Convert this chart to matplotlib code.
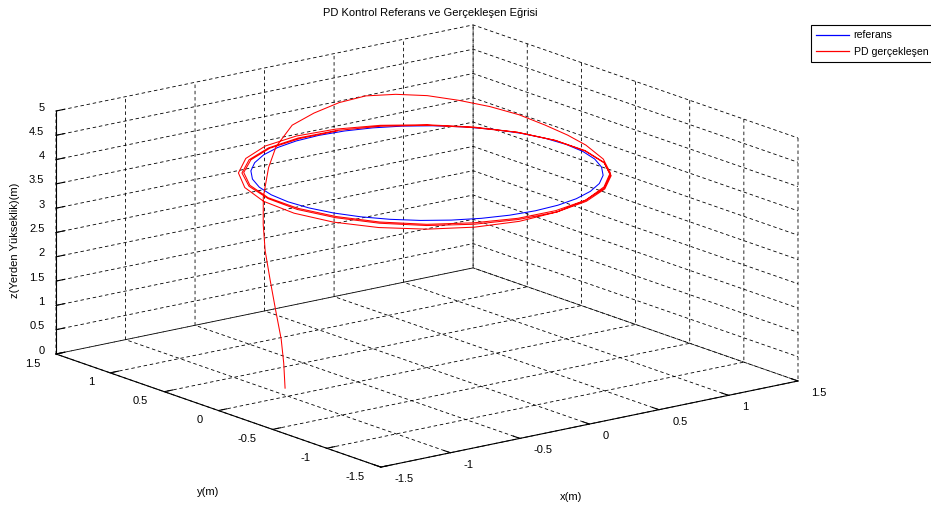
import matplotlib
matplotlib.use('Agg')
import matplotlib.pyplot as plt
import numpy as np
from matplotlib.lines import Line2D
from matplotlib.ticker import FormatStrFormatter

plt.rcParams['font.family'] = ['Liberation Sans', 'DejaVu Sans']
plt.rcParams['font.size'] = 8
plt.rcParams['axes.unicode_minus'] = False
plt.rcParams['lines.scale_dashes'] = False

# reference: circle of radius 1 at 4 m height
ref_angle = [0, 10, 20, 30, 40, 50, 60, 70, 80, 90, 100, 110, 120, 130, 140, 150,
             160, 170, 180, 190, 200, 210, 220, 230, 240, 250, 260, 270, 280, 290,
             300, 310, 320, 330, 340, 350, 360]
ref_radius = 1.0
ref_height = 4.0

# PD result as (angle deg, radius, height)
pd_angle = [171, 170, 168, 163, 157, 149, 140, 130, 120, 112, 102, 92, 82, 72, 62, 52,
            42, 32, 22, 12, 2, -8, -23, -38,
            -53, -68, -83, -98, -113, -128, -143, -158, -173, -188, -203, -218,
            -233, -248, -263, -278, -293, -308, -323, -338, -353, -368, -383, -398,
            -413, -428, -443, -458, -473, -488, -503, -518, -533, -548, -563, -578,
            -593, -608, -623, -638, -653, -668, -683, -698, -713, -728, -743, -758,
            -773, -788, -803, -818, -833, -848, -863, -878, -893, -908, -923, -938,
            -953, -968, -983, -998]
pd_radius = [0.92, 0.92, 0.92, 0.92, 0.92, 0.925, 0.93, 0.95, 0.97, 0.99, 1.0, 1.0,
             1.0, 1.02, 1.03, 1.04, 1.04, 1.04, 1.04, 1.04, 1.04, 1.04, 1.035, 1.04,
             1.04, 1.04, 1.045, 1.05, 1.05, 1.05, 1.055, 1.06, 1.065, 1.07, 1.07, 1.07,
             1.065, 1.06, 1.05, 1.04, 1.03, 1.02, 1.02, 1.025, 1.03, 1.035, 1.04, 1.045,
             1.045, 1.045, 1.045, 1.04, 1.04, 1.035, 1.035, 1.035, 1.04, 1.04, 1.045, 1.05,
             1.045, 1.04, 1.035, 1.03, 1.02, 1.02, 1.02, 1.025, 1.03, 1.035, 1.04, 1.04,
             1.04, 1.04, 1.035, 1.035, 1.03, 1.03, 1.03, 1.03, 1.035, 1.04, 1.04, 1.04,
             1.035, 1.03, 1.02, 1.02]
pd_height = [0.0, 0.5, 0.97, 1.5, 2.0, 2.5, 2.9, 3.3, 3.75, 4.05, 4.35, 4.48,
             4.6, 4.65, 4.63, 4.58, 4.5, 4.42, 4.33, 4.22, 4.14, 4.08, 4.04, 4.02,
             3.99, 3.96, 3.93, 3.90, 3.88, 3.87, 3.87, 3.88, 3.90, 3.93, 3.96, 3.99,
             4.02, 4.03, 4.03, 4.02, 4.01, 4.00, 3.99, 3.98, 3.97, 3.96, 3.96, 3.96,
             3.95, 3.94, 3.93, 3.93, 3.93, 3.93, 3.94, 3.95, 3.96, 3.97, 3.98, 3.99,
             4.00, 4.00, 4.00, 4.00, 4.00, 3.99, 3.98, 3.98, 3.97, 3.97, 3.97, 3.97,
             3.96, 3.96, 3.95, 3.95, 3.95, 3.95, 3.96, 3.97, 3.98, 3.99, 4.00, 4.00,
             4.00, 4.00, 4.00, 4.00]

xy_ticks = [-1.5, -1, -0.5, 0, 0.5, 1, 1.5]
z_ticks = [0, 0.5, 1, 1.5, 2, 2.5, 3, 3.5, 4, 4.5, 5]

ref_t = np.radians(ref_angle)
ref_x = ref_radius * np.cos(ref_t)
ref_y = ref_radius * np.sin(ref_t)
ref_z = np.full(len(ref_angle), ref_height)

pd_t = np.radians(pd_angle)
pd_x = np.array(pd_radius) * np.cos(pd_t)
pd_y = np.array(pd_radius) * np.sin(pd_t)
pd_z = np.array(pd_height)

REF_COLOR = '#0000ff'
PD_COLOR = '#ff0000'

W_PX, H_PX = 931, 508
fig = plt.figure(figsize=(W_PX / 100, H_PX / 100), dpi=100)
fig.patch.set_facecolor('white')
ax = fig.add_axes([0, 0, 1, 1], projection='3d', proj_type='ortho')
ax.view_init(elev=15.55, azim=-127.6)
ax.set_box_aspect((526, 532, 252))

ax.plot(ref_x, ref_y, ref_z, color=REF_COLOR, lw=0.75)
ax.plot(pd_x, pd_y, pd_z, color=PD_COLOR, lw=0.75)

ax.set_xlim(-1.5, 1.5)
ax.set_ylim(-1.5, 1.5)
ax.set_zlim(0, 5)
ax.set_xticks(xy_ticks)
ax.set_yticks(xy_ticks)
ax.set_zticks(z_ticks)
for a in (ax.xaxis, ax.yaxis, ax.zaxis):
    a.set_major_formatter(FormatStrFormatter('%g'))
    a.pane.set_facecolor((1, 1, 1, 0))
    a.pane.set_edgecolor('none')
    a.line.set_color('black')
    a.line.set_linewidth(0.8)
    a._axinfo['grid'].update(color='black', linewidth=0.6, linestyle=(0, (2.5, 2)))
    a._axinfo['tick']['inward_factor'] = 0.0
    a._axinfo['tick']['outward_factor'] = 0.25
ax.tick_params(labelsize=8, labelcolor='black')
ax.xaxis.set_tick_params(pad=4)
ax.yaxis.set_tick_params(pad=3)
ax.zaxis.set_tick_params(pad=-3.5)
for lab in ax.xaxis.get_majorticklabels():
    lab.set_ha('left')
    lab.set_va('baseline')
for lab in ax.yaxis.get_majorticklabels():
    lab.set_ha('right')
    lab.set_va('baseline')
for lab in ax.zaxis.get_majorticklabels():
    lab.set_ha('right')
    lab.set_va('baseline')

# fit the projected box onto the reference corners (pixels, y from top)
fig.canvas.draw()
M = ax.get_proj()


def axes_frac(x, y, z):
    v = M @ np.array([x, y, z, 1.0])
    disp = ax.transData.transform((v[0] / v[3], v[1] / v[3]))
    return ax.transAxes.inverted().transform(disp)


fa = axes_frac(-1.5, 1.5, 0)
fc = axes_frac(1.5, -1.5, 0)
side = (798 - 56) / (fc[0] - fa[0])
ox = 56 - side * fa[0]
oy = (H_PX - 354) - side * fa[1]
ax.set_position([ox / W_PX, oy / H_PX, side / W_PX, side / H_PX])

fig.text(430 / W_PX, 1 - 13 / H_PX, 'PD Kontrol Referans ve Gerçekleşen Eğrisi',
         ha='center', va='center', fontsize=8)
fig.text(571 / W_PX, 1 - 497 / H_PX, 'x(m)', ha='center', va='center', fontsize=8)
fig.text(208 / W_PX, 1 - 492 / H_PX, 'y(m)', ha='center', va='center', fontsize=8)
fig.text(15 / W_PX, 1 - 240 / H_PX, 'z(Yerden Yükseklik)(m)', ha='center', va='center',
         rotation=90, fontsize=8)

handles = [Line2D([], [], color=REF_COLOR, lw=0.9),
           Line2D([], [], color=PD_COLOR, lw=0.9)]
leg = fig.legend(handles, ['referans', 'PD gerçekleşen'], loc='upper left',
                 bbox_to_anchor=(811 / W_PX, 1 - 25 / H_PX),
                 fancybox=False, edgecolor='black', framealpha=1, handlelength=3.1,
                 handletextpad=0.45, borderpad=0.5, labelspacing=0.65, borderaxespad=0,
                 fontsize=7.6)
leg.get_frame().set_linewidth(0.8)

fig.savefig('out.png', dpi=100)
